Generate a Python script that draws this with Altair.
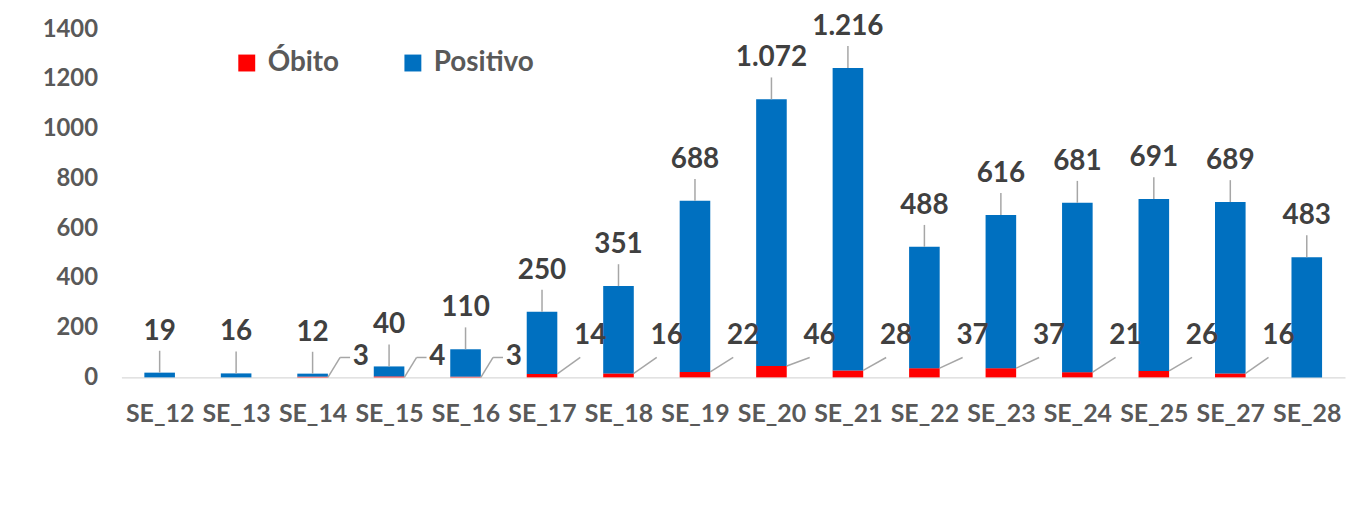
import altair as alt
import pandas as pd
import json

categories = ["SE_12", "SE_13", "SE_14", "SE_15", "SE_16", "SE_17", "SE_18", "SE_19",
              "SE_20", "SE_21", "SE_22", "SE_23", "SE_24", "SE_25", "SE_27", "SE_28"]
positivo = [19, 16, 12, 40, 110, 250, 351, 688, 1072, 1216, 488, 616, 681, 691, 689, 483]
obito = [0, 0, 3, 4, 3, 14, 16, 22, 46, 28, 37, 37, 21, 26, 16, 0]
y_ticks = [0, 200, 400, 600, 800, 1000, 1200, 1400]
series_names = ["Óbito", "Positivo"]

FONT = "Lato"
BLUE = "#0070C0"
RED = "#FF0000"
LEADER = "#A6A6A6"
HALF = 0.2  # half bar width, in category steps


def fmt(v):
    return f"{v:,}".replace(",", ".")


n = len(categories)
rows = []
for i, (p, o) in enumerate(zip(positivo, obito)):
    rows.append({"i": i, "series": "Óbito", "y0": 0, "y1": o})
    rows.append({"i": i, "series": "Positivo", "y0": o, "y1": o + p})
bars_df = pd.DataFrame(rows)
bars_df["xa"] = bars_df["i"] - HALF
bars_df["xb"] = bars_df["i"] + HALF

lab = pd.DataFrame({"i": list(range(n)), "pos": positivo, "obi": obito})
lab["total"] = lab["pos"] + lab["obi"]
lab["pos_txt"] = lab["pos"].map(fmt)
lab["obi_txt"] = lab["obi"].map(fmt)
lab["line_top"] = lab["total"] + 88
lab["pos_y"] = lab["total"] + 165
lab["small"] = lab["obi"] < 10
lab["obi_y"] = lab["small"].map({True: 80, False: 165})
lab["obi_line_end"] = lab["small"].map({True: 80, False: 80})
lab["xr"] = lab["i"] + HALF
lab["xe_big"] = lab["i"] + 0.5
lab["xe_mid"] = lab["i"] + 0.36
lab["xe_small"] = lab["i"] + 0.49
lab["xt"] = lab["i"] + 0.63
lab["zero"] = 0

x_scale = alt.Scale(domain=[-0.5, n - 0.5], nice=False, zero=False)
cat_js = json.dumps(categories)
x_axis = alt.Axis(title=None, values=list(range(n)), labelExpr=f"{cat_js}[datum.value]",
                  grid=False, ticks=False, domainColor="#D9D9D9", domainWidth=1.5,
                  labelFont=FONT, labelFontSize=25, labelFontWeight="bold",
                  labelColor="#595959", labelPadding=24, labelFlush=False)
y_scale = alt.Scale(domain=[0, 1400], nice=False)

bars = alt.Chart(bars_df).mark_bar().encode(
    x=alt.X("xa:Q", scale=x_scale, axis=x_axis),
    x2="xb:Q",
    y=alt.Y("y0:Q", scale=y_scale,
            axis=alt.Axis(title=None, values=y_ticks, format="d", grid=False, ticks=False,
                          domain=False, labelFont=FONT, labelFontSize=24,
                          labelFontWeight="bold", labelColor="#595959", labelPadding=24)),
    y2="y1:Q",
    color=alt.Color("series:N", sort=series_names,
                    scale=alt.Scale(domain=series_names, range=[RED, BLUE]),
                    legend=alt.Legend(title=None, orient="none", direction="horizontal",
                                      legendX=112, legendY=20, symbolType="square",
                                      symbolSize=289, symbolStrokeWidth=0,
                                      labelFont=FONT, labelFontSize=28,
                                      labelFontWeight="bold", labelColor="#595959",
                                      labelOffset=7, columnPadding=60)),
)

base = alt.Chart(lab)
X = lambda f: alt.X(f, scale=x_scale)

pos_lines = base.mark_rule(color=LEADER, strokeWidth=1.5).encode(
    x=X("i:Q"), y="total:Q", y2="line_top:Q")

pos_text = base.mark_text(font=FONT, fontSize=28, fontWeight="bold", color="#404040",
                          baseline="middle").encode(
    x=X("i:Q"), y="pos_y:Q", text="pos_txt:N")

obi_big = base.transform_filter("datum.obi >= 10")
obi_small = base.transform_filter("datum.obi > 0 && datum.obi < 10")

obi_lines_big = obi_big.mark_rule(color=LEADER, strokeWidth=1.5).encode(
    x=X("xr:Q"), x2="xe_big:Q", y="obi:Q", y2="obi_line_end:Q")

obi_lines_small1 = obi_small.mark_rule(color=LEADER, strokeWidth=1.5).encode(
    x=X("xr:Q"), x2="xe_mid:Q", y="zero:Q", y2="obi_line_end:Q")
obi_lines_small2 = obi_small.mark_rule(color=LEADER, strokeWidth=1.5).encode(
    x=X("xe_mid:Q"), x2="xe_small:Q", y="obi_line_end:Q", y2="obi_line_end:Q")

obi_text = base.transform_filter("datum.obi > 0").mark_text(
    font=FONT, fontSize=28, fontWeight="bold", color="#404040", baseline="middle").encode(
    x=X("xt:Q"), y="obi_y:Q", text="obi_txt:N")

chart = alt.layer(bars, pos_lines, pos_text, obi_lines_big, obi_lines_small1,
                  obi_lines_small2, obi_text).properties(
    width=1230, height=350,
    autosize=alt.AutoSizeParams(type="none"),
    padding={"left": 114, "top": 20, "right": 2, "bottom": 130},
    background="white",
).configure_view(stroke=None)

chart.save("out.html", embed_options={"renderer": "svg", "actions": False})
